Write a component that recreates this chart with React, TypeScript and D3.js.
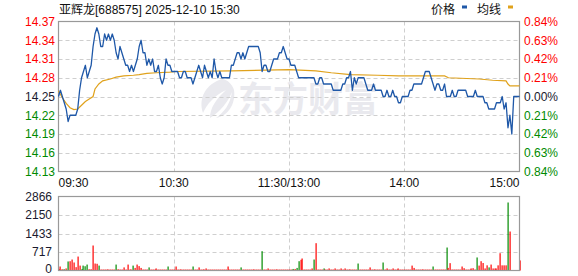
import React from "react";
import * as d3 from "d3";

const title = "亚辉龙[688575] 2025-12-10 15:30";
const basePrice = 14.25;

const prices = [
  14.25,14.26,14.25,14.24,14.23,14.21,14.22,14.22,14.22,14.22,
  14.23,14.26,14.28,14.29,14.30,14.28,14.29,14.30,14.33,14.35,
  14.36,14.35,14.33,14.33,14.35,14.34,14.35,14.34,14.35,14.34,
  14.32,14.31,14.33,14.32,14.31,14.30,14.30,14.29,14.30,14.29,
  14.30,14.31,14.33,14.34,14.32,14.32,14.30,14.31,14.30,14.31,
  14.29,14.29,14.30,14.28,14.27,14.28,14.31,14.30,14.30,14.29,
  14.29,14.29,14.29,14.28,14.28,14.29,14.29,14.28,14.28,14.28,
  14.27,14.28,14.29,14.30,14.29,14.28,14.30,14.29,14.28,14.29,
  14.28,14.31,14.29,14.28,14.29,14.28,14.28,14.28,14.28,14.28,
  14.30,14.30,14.31,14.32,14.32,14.31,14.32,14.31,14.32,14.33,
  14.33,14.33,14.33,14.33,14.33,14.32,14.29,14.30,14.30,14.29,
  14.29,14.30,14.31,14.31,14.31,14.32,14.32,14.33,14.32,14.31,
  14.31,14.30,14.30,14.30,14.29,14.28,14.28,14.28,14.28,14.28,
  14.28,14.28,14.28,14.28,14.27,14.27,14.28,14.28,14.27,14.27,
  14.27,14.27,14.27,14.26,14.26,14.26,14.26,14.26,14.27,14.27,
  14.28,14.28,14.29,14.26,14.28,14.27,14.28,14.28,14.28,14.28,
  14.27,14.26,14.26,14.26,14.27,14.26,14.26,14.26,14.26,14.25,
  14.25,14.26,14.25,14.25,14.26,14.25,14.25,14.24,14.24,14.25,
  14.25,14.25,14.25,14.26,14.26,14.27,14.27,14.27,14.27,14.27,
  14.28,14.29,14.29,14.29,14.28,14.27,14.26,14.27,14.27,14.26,
  14.26,14.27,14.25,14.25,14.25,14.26,14.25,14.25,14.26,14.26,
  14.26,14.26,14.26,14.25,14.25,14.25,14.25,14.26,14.25,14.25,
  14.25,14.25,14.24,14.24,14.23,14.23,14.23,14.23,14.24,14.24,
  14.24,14.25,14.23,14.24,14.20,14.22,14.19,14.25,14.25,14.25,
  14.25,
];

const avgMinutes = [0,2,4,6,8,10,12,14,16,18,19,21,23,27,30,34,39,42,46,51,58,61,90,120,134,142,152,166,177,201,203,219,226,233,234,235,240];
const avgValues = [14.259,14.248,14.239,14.232,14.229,14.23,14.236,14.242,14.246,14.25,14.262,14.27,14.275,14.278,14.281,14.283,14.284,14.285,14.287,14.288,14.289,14.29,14.291,14.293,14.291,14.288,14.285,14.284,14.283,14.283,14.28,14.278,14.276,14.275,14.27,14.267,14.267];

const volumes = [
  60,155,50,50,80,350,360,425,310,130,
  540,190,60,190,165,230,50,50,968,270,
  260,190,40,40,40,40,40,40,40,40,
  230,50,40,40,120,40,230,40,40,190,
  100,230,170,100,40,40,40,120,40,40,
  40,80,40,40,40,40,40,155,40,40,
  40,155,40,40,40,40,40,40,40,40,
  155,40,40,120,40,40,40,80,40,40,
  40,40,40,40,40,40,40,40,155,40,
  40,40,40,40,40,120,40,40,40,40,
  40,40,40,40,40,40,748,40,40,80,
  40,40,40,40,40,40,40,40,40,40,
  40,40,60,60,100,360,414,465,40,40,
  40,40,80,425,1058,40,40,40,80,40,
  40,80,40,40,80,40,40,80,40,80,
  40,40,40,40,40,40,270,40,40,40,
  40,40,120,40,40,40,40,40,40,310,
  40,80,40,40,80,40,40,80,40,40,
  40,40,40,40,190,100,40,40,40,40,
  40,40,40,40,40,155,40,40,40,40,
  40,40,890,100,285,40,40,40,40,40,
  155,90,40,40,40,80,90,40,505,190,
  360,290,80,200,120,230,80,80,80,200,
  670,200,200,200,2634,1510,0,0,0,0,
  390,
];
const downMinutes = [3,5,12,13,14,15,21,30,39,47,57,70,95,106,122,124,125,133,138,156,169,195,202,218,224,234];

const priceTicks = [14.37,14.34,14.31,14.28,14.25,14.22,14.19,14.16,14.13];
const pctTicks = ["0.84%","0.63%","0.42%","0.21%","0.00%","0.21%","0.42%","0.63%","0.84%"];
const volTicks = [2866,2150,1433,717,0];
const timeTickMinutes = [0,60,120,180,240];
const timeTickLabels = ["09:30","10:30","11:30/13:00","14:00","15:00"];

const W = 578, H = 276;
const L = 58.5, R = 519.5;
const PT = 21.5, PB = 171.5;
const VT = 196.5, VB = 270.5;

const RED = "#f00";
const GREEN = "#008a00";
const DARK = "#1a1a2e";
const GRID = "#cfcfcf";
const FRAME = "#999";
const FONT = "'Liberation Sans', Arial, 'Noto Sans CJK SC', sans-serif";

export default function App() {
  const x = d3.scaleLinear().domain([0, 240]).range([L, R]);
  const y = d3.scaleLinear().domain([14.13, 14.37]).range([PB, PT]);
  const yv = d3.scaleLinear().domain([0, 2866]).range([VB, VT]);

  const priceLine = d3.line<number>().x((_, i) => x(i)).y((d) => y(d))(prices) || "";
  const avgLine = d3.line<number>().x((_, i) => x(avgMinutes[i])).y((d) => y(d))(avgValues) || "";
  const downSet = new Set(downMinutes);

  const tickColor = (p: number) => (Math.abs(p - basePrice) < 1e-6 ? DARK : p > basePrice ? RED : GREEN);

  return (
    <svg width={W} height={H} style={{ position: "fixed", left: 0, top: 0, background: "#fff" }} fontFamily={FONT}>
      {/* watermark */}
      <g fill="#e9e9ee">
        <path d="M222 79 C206 84 198 98 203 113 C207 104 214 96 226 90 C216 99 210 108 210 118 C220 112 228 102 232 92 C230 105 224 112 216 118 C228 116 236 104 234 90 C232 84 228 80 222 79 Z" />
        <text x={238} y={112} fontSize={35} fontWeight="bold" fontFamily="'Noto Sans CJK SC', sans-serif">东方财富</text>
      </g>

      {/* title */}
      <text x={59} y={14} fontSize={12} fill="#111">{title}</text>

      {/* legend */}
      <text x={431} y={14} fontSize={12} fill="#111" fontFamily="'Noto Sans CJK SC', sans-serif">价格</text>
      <rect x={462} y={5.5} width={5} height={3} fill="#1f58a8" />
      <text x={477} y={14} fontSize={12} fill="#111" fontFamily="'Noto Sans CJK SC', sans-serif">均线</text>
      <rect x={508} y={5.5} width={5} height={3} fill="#e0a21c" />

      {/* price grid */}
      {priceTicks.slice(1, -1).map((p, i) => (
        <line key={"hg" + i} x1={L} x2={R} y1={Math.round(y(p)) + 0.5} y2={Math.round(y(p)) + 0.5} stroke={GRID} strokeDasharray="4,3" />
      ))}
      {timeTickMinutes.slice(1, -1).map((m, i) => (
        <line key={"vg" + i} x1={Math.round(x(m)) + 0.5} x2={Math.round(x(m)) + 0.5} y1={PT} y2={PB} stroke={GRID} strokeDasharray="4,3" />
      ))}
      <rect x={L} y={PT} width={R - L} height={PB - PT} fill="none" stroke={FRAME} strokeWidth={1.2} />

      {/* price axis labels */}
      {priceTicks.map((p, i) => (
        <text key={"pl" + i} x={55} y={y(p)} dy="0.36em" textAnchor="end" fontSize={12} fill={tickColor(p)}>{p.toFixed(2)}</text>
      ))}
      {pctTicks.map((t, i) => (
        <text key={"pr" + i} x={524} y={y(priceTicks[i])} dy="0.36em" fontSize={12} fill={tickColor(priceTicks[i])}>{t}</text>
      ))}

      {/* time labels */}
      {timeTickMinutes.map((m, i) => (
        <text key={"tl" + i} x={i === 0 ? L : i === 4 ? R : x(m)} y={183} dy="0.36em" fontSize={12} fill="#111"
          textAnchor={i === 0 ? "start" : i === 4 ? "end" : "middle"}>{timeTickLabels[i]}</text>
      ))}

      {/* lines */}
      <path d={avgLine} fill="none" stroke="#e0a21c" strokeWidth={1.2} />
      <path d={priceLine} fill="none" stroke="#1f58a8" strokeWidth={1.3} strokeLinejoin="round" />

      {/* volume grid */}
      {volTicks.slice(1, -1).map((v, i) => (
        <line key={"vh" + i} x1={L} x2={R} y1={Math.round(yv(v)) + 0.5} y2={Math.round(yv(v)) + 0.5} stroke={GRID} strokeDasharray="4,3" />
      ))}
      {timeTickMinutes.slice(1, -1).map((m, i) => (
        <line key={"vv" + i} x1={Math.round(x(m)) + 0.5} x2={Math.round(x(m)) + 0.5} y1={VT} y2={VB} stroke={GRID} strokeDasharray="4,3" />
      ))}

      {/* volume bars */}
      {volumes.map((v, i) => (
        v > 0 ? <rect key={"vb" + i} x={Math.round(x(i)) - 0.5} y={yv(v)} width={1.2} height={VB - yv(v)} fill={downSet.has(i) ? "#008a00" : "#f00"} /> : null
      ))}
      <rect x={L} y={VT} width={R - L} height={VB - VT} fill="none" stroke={FRAME} strokeWidth={1.2} />

      {volTicks.map((v, i) => (
        <text key={"vl" + i} x={52} y={Math.min(yv(v), 268.5)} dy="0.36em" textAnchor="end" fontSize={12} fill={DARK}>{v}</text>
      ))}
    </svg>
  );
}
